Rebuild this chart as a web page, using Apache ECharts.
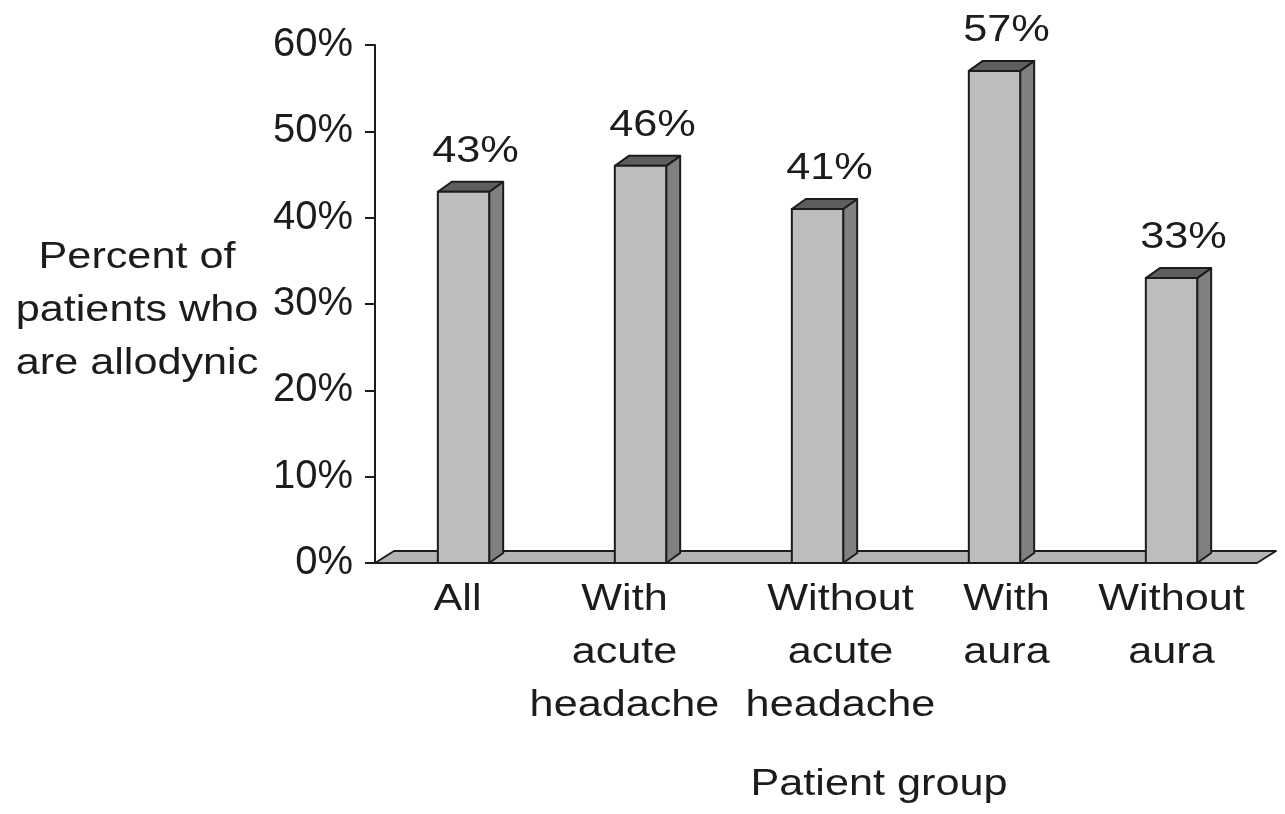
<!DOCTYPE html>
<html>
<head>
<meta charset="utf-8">
<script src="https://cdn.jsdelivr.net/npm/echarts@6/dist/echarts.min.js"></script>
<style>
  html, body { margin: 0; padding: 0; background: #fff; }
  #chart { width: 1285px; height: 814px; }
</style>
</head>
<body>
<div id="chart"></div>
<script>
// Patient groups and the share of each that is allodynic (%)
const categories = ['All', 'With\nacute\nheadache', 'Without\nacute\nheadache', 'With\naura', 'Without\naura'];
const values = [43, 46, 41, 57, 33];
const yTicks = [0, 10, 20, 30, 40, 50, 60];

const FONT = '"Liberation Sans", Arial, sans-serif';
const INK = '#1c1c1c';
const FRONT = '#bdbdbd', SIDE = '#808080', TOP = '#5e5e5e', FLOOR = '#b4b4b4';
const DEPTH = [14, 10];        // bar depth offset (x, y)
const FLOOR_DEPTH = [19, 12];  // floor depth offset
const WIDE = 1.2;              // horizontal stretch of the wide caption type
const labelNudge = [-6, -16, 23, 12, 0]; // horizontal nudge of category captions

const chart = echarts.init(document.getElementById('chart'), null, { renderer: 'canvas' });

const stroke = { stroke: INK, lineWidth: 2, lineJoin: 'round' };
const wideText = (text, x, y, extra) => ({
  type: 'text', x, y, scaleX: WIDE,
  style: Object.assign({ text, fontSize: 36, fill: INK, fontFamily: FONT, align: 'center', verticalAlign: 'middle' }, extra || {})
});

chart.setOption({
  animation: false,
  grid: { left: 375, right: 25, top: 45, bottom: 251, containLabel: false },
  xAxis: {
    type: 'category',
    data: categories,
    axisLine: { show: false },
    axisTick: { show: false },
    axisLabel: { show: false }
  },
  yAxis: {
    type: 'value',
    min: yTicks[0], max: yTicks[yTicks.length - 1], interval: 10,
    axisLine: { show: true, lineStyle: { color: INK, width: 2 } },
    axisTick: { show: true, length: 10, lineStyle: { color: INK, width: 2 } },
    axisLabel: { formatter: '{value}%', fontSize: 40, color: INK, fontFamily: FONT, margin: 22 },
    splitLine: { show: false }
  },
  graphic: [
    wideText('Percent of\npatients who\nare allodynic', 137, 311, { lineHeight: 53 }),
    wideText('Patient group', 879, 785)
  ],
  series: [
    {
      // floor slab under the bars
      type: 'custom',
      data: [[0]],
      z: 1,
      silent: true,
      renderItem(params, api) {
        const cs = params.coordSys;
        const yb = api.coord([0, 0])[1];
        const xl = cs.x, xr = cs.x + cs.width - 3;
        return {
          type: 'polygon',
          shape: { points: [[xl, yb], [xr, yb], [xr + FLOOR_DEPTH[0], yb - FLOOR_DEPTH[1]], [xl + FLOOR_DEPTH[0], yb - FLOOR_DEPTH[1]]] },
          style: Object.assign({ fill: FLOOR }, stroke)
        };
      }
    },
    {
      // category captions under the floor
      type: 'custom',
      data: categories.map((c, i) => [i]),
      z: 2,
      silent: true,
      renderItem(params, api) {
        const i = api.value(0);
        const p = api.coord([i, 0]);
        return wideText(categories[i], p[0] + labelNudge[i], p[1] + 11, { lineHeight: 53, verticalAlign: 'top' });
      }
    },
    {
      // 3-D columns with their value captions
      type: 'custom',
      data: values.map((v, i) => [i, v]),
      z: 3,
      renderItem(params, api) {
        const i = api.value(0), v = api.value(1);
        const base = api.coord([i, 0]);
        const top = api.coord([i, v]);
        const w = api.size([1, 0])[0] * 0.29;
        const x0 = base[0] - w / 2, x1 = base[0] + w / 2;
        const yb = base[1], yt = top[1];
        const [dx, dy] = DEPTH;
        return {
          type: 'group',
          children: [
            { type: 'polygon', shape: { points: [[x1, yb], [x1, yt], [x1 + dx, yt - dy], [x1 + dx, yb - dy]] }, style: Object.assign({ fill: SIDE }, stroke) },
            { type: 'polygon', shape: { points: [[x0, yt], [x1, yt], [x1 + dx, yt - dy], [x0 + dx, yt - dy]] }, style: Object.assign({ fill: TOP }, stroke) },
            { type: 'rect', shape: { x: x0, y: yt, width: w, height: yb - yt }, style: Object.assign({ fill: FRONT }, stroke) },
            {
              type: 'text', x: base[0] + 12, y: yt - 40, scaleX: 1.17,
              style: { text: v + '%', fontSize: 37, fill: INK, fontFamily: FONT, align: 'center', verticalAlign: 'middle' }
            }
          ]
        };
      }
    }
  ]
});
</script>
</body>
</html>
